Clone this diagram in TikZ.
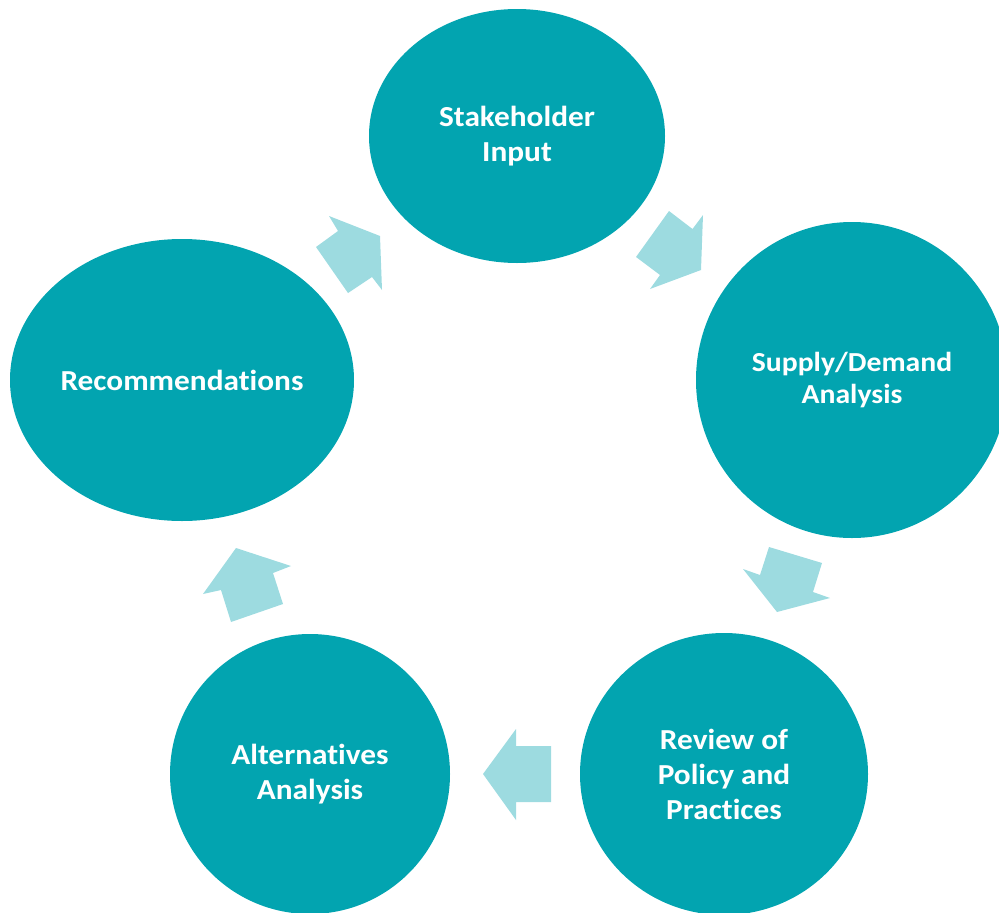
\documentclass[tikz,border=0pt]{standalone}
\usepackage{fontspec}
\setmainfont{Carlito}[FakeStretch=1.08, Ligatures=NoCommon]
\usetikzlibrary{shapes.geometric}
\definecolor{stagefill}{RGB}{2,164,176}
\definecolor{arrowfill}{RGB}{157,219,224}
\begin{document}
\begin{tikzpicture}[x=1pt,y=-1pt,
  stage/.style={ellipse, fill=stagefill, draw=none, inner sep=0pt, text=white, align=center,
    font=\fontsize{29}{35}\selectfont\bfseries},
  blockarrow/.style={fill=arrowfill, draw=none}]
\useasboundingbox (0,0) rectangle (999,913);
\clip (0,0) rectangle (999,913);
\node[stage, minimum width=296pt, minimum height=254pt] (stake) at (517,136) {Stakeholder\\Input};
\node[stage, minimum width=312pt, minimum height=316pt, font=\fontsize{27.5}{32}\selectfont\bfseries] (supply) at (852,380) {Supply/Demand\\Analysis};
\node[stage, minimum width=288pt, minimum height=282pt] (review) at (724,774) {Review of\\Policy and\\Practices};
\node[stage, minimum width=280pt, minimum height=280pt] (alt) at (310,774) {Alternatives\\Analysis};
\node[stage, minimum width=344pt, minimum height=282pt] (rec) at (182,380) {Recommendations};
% block arrows between the stages
\fill[blockarrow] (329,216) -- (338,231) -- (316,247) -- (348,293) -- (372,277) -- (382,290) -- (380,236) -- cycle;
\fill[blockarrow] (669,211) -- (692.5,229) -- (703,215) -- (701,270) -- (650,289) -- (660,275) -- (636,257) -- cycle;
\fill[blockarrow] (769,547) -- (822,563) -- (813,592) -- (830,598) -- (777,612) -- (743,569) -- (760,575) -- cycle;
\fill[blockarrow] (516,729) -- (516,746) -- (551,746) -- (551,802) -- (516,802) -- (516,820) -- (483,774) -- cycle;
\fill[blockarrow] (236,548) -- (291,566) -- (273,573) -- (283,604) -- (231,622) -- (221,590) -- (203,594) -- cycle;
\end{tikzpicture}
\end{document}
